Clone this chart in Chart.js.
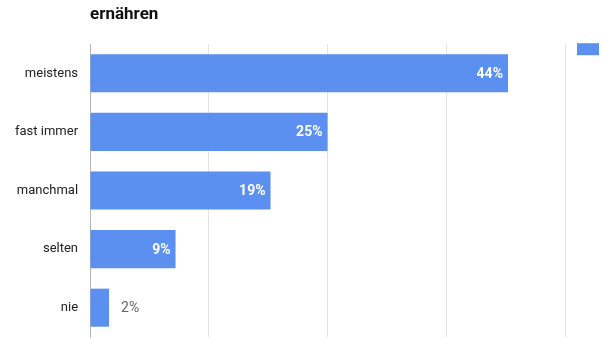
<!DOCTYPE html>
<html>
<head>
<meta charset="utf-8">
<script src="https://cdn.jsdelivr.net/npm/chart.js@4/dist/chart.umd.min.js"></script>
<style>
  html, body { margin: 0; padding: 0; background: #fff; overflow: hidden; }
  #wrap { width: 603px; height: 340px; }
</style>
</head>
<body>
<div id="wrap"><canvas id="chart" width="603" height="340"></canvas></div>
<script>
const titleText = 'ernähren';
const categories = ['meistens', 'fast immer', 'manchmal', 'selten', 'nie'];
const values = [44, 25, 19, 9, 2];
const axisMax = 50;
const axisStep = 12.5;

const FONT = 'Roboto, "Liberation Sans", Arial, sans-serif';

// value labels: white inside the bar, grey after it when the bar is too short
const valueLabels = {
    id: 'valueLabels',
    afterDatasetsDraw(chart) {
        const { ctx } = chart;
        const meta = chart.getDatasetMeta(0);
        ctx.save();
        ctx.textBaseline = 'middle';
        meta.data.forEach((bar, i) => {
            const txt = values[i] + '%';
            ctx.font = `bold 14px ${FONT}`;
            const w = ctx.measureText(txt).width;
            if (bar.x - bar.base > w + 12) {
                ctx.fillStyle = '#fff';
                ctx.textAlign = 'right';
                ctx.fillText(txt, bar.x - 5, bar.y + 1);
            } else {
                ctx.font = `14px ${FONT}`;
                ctx.fillStyle = '#666';
                ctx.textAlign = 'left';
                ctx.fillText(txt, bar.x + 12, bar.y + 1);
            }
        });
        ctx.restore();
    }
};

new Chart(document.getElementById('chart'), {
    type: 'bar',
    data: {
        labels: categories,
        datasets: [{
            label: '',
            data: values,
            backgroundColor: '#5b8ff0',
            borderWidth: 0,
            barPercentage: 0.65,
            categoryPercentage: 1
        }]
    },
    options: {
        indexAxis: 'y',
        responsive: false,
        animation: false,
        layout: { padding: { top: 0, bottom: 3, left: 3, right: -8 } },
        plugins: {
            tooltip: { enabled: false },
            // fullSize off so the title lines up with the plot area
            title: {
                display: true,
                text: titleText,
                fullSize: false,
                align: 'start',
                color: '#111',
                font: { family: FONT, size: 17, weight: 'bold' },
                padding: { top: 5, bottom: 18.6 }
            },
            legend: {
                display: true,
                position: 'right',
                align: 'start',
                title: { display: true, text: '', font: { size: 1 }, padding: { top: 30, bottom: 0 } },
                labels: { boxWidth: 22, boxHeight: 12, padding: 12, font: { size: 4 } }
            }
        },
        scales: {
            x: {
                min: 0,
                max: axisMax,
                ticks: { display: false, stepSize: axisStep },
                grid: { color: '#e3e3e3', drawTicks: false },
                border: { display: false }
            },
            y: {
                ticks: { color: '#222', font: { family: FONT, size: 13 }, padding: 12 },
                grid: { display: false, drawTicks: false },
                border: { display: true, color: '#b5b5b5' },
                // the label padding should not eat into the plot height
                afterFit: (s) => { s.paddingTop = 0; s.paddingBottom = 0; }
            }
        }
    },
    plugins: [valueLabels]
});
</script>
</body>
</html>
